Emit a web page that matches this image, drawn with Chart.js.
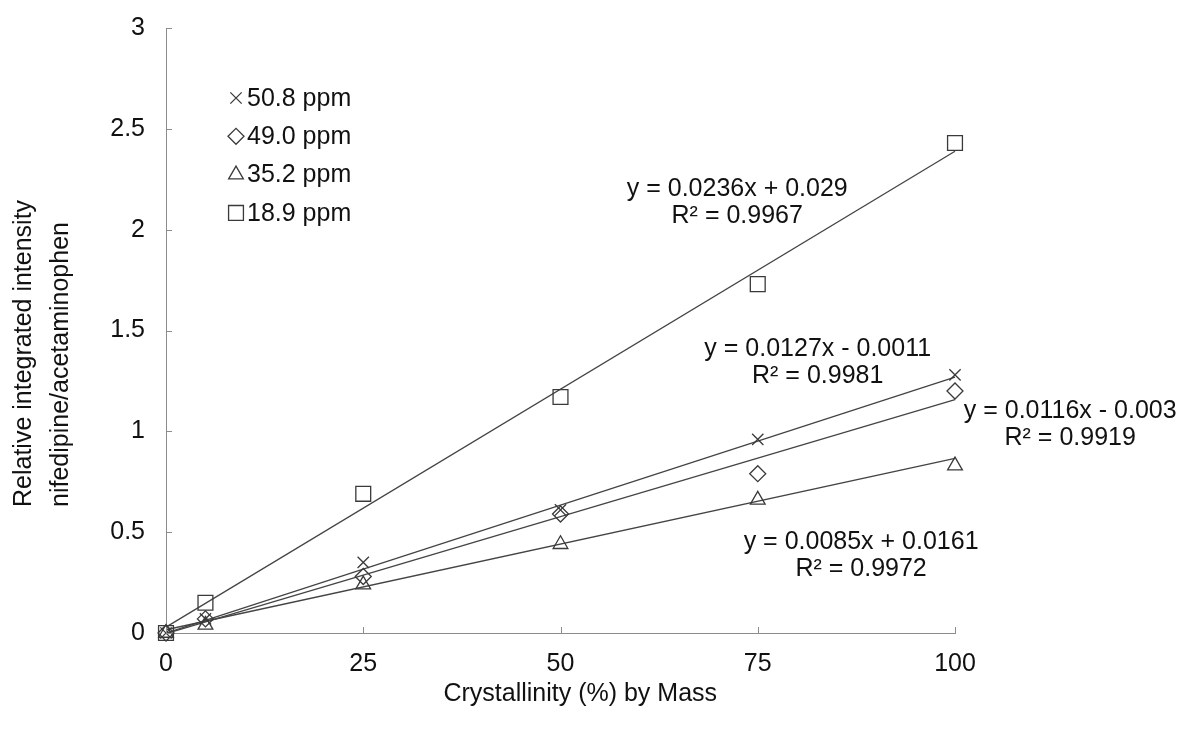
<!DOCTYPE html>
<html>
<head>
<meta charset="utf-8">
<script src="https://cdn.jsdelivr.net/npm/chart.js@4/dist/chart.umd.min.js"></script>
<style>
  html, body { margin: 0; padding: 0; background: #fff; }
  #wrap { width: 1181px; height: 729px; }
</style>
</head>
<body>
<div id="wrap"><canvas id="chart" width="1181" height="729"></canvas></div>
<script>
// Values
var crystallinity = [0, 5, 25, 50, 75, 100];

var ppm508 = [0, 0.07, 0.35, 0.61, 0.96, 1.28];
var ppm490 = [0, 0.07, 0.28, 0.59, 0.79, 1.20];
var ppm352 = [0, 0.04, 0.24, 0.44, 0.66, 0.83];
var ppm189 = [0, 0.15, 0.69, 1.17, 1.73, 2.43];

var seriesLabels = ['50.8 ppm', '49.0 ppm', '35.2 ppm', '18.9 ppm'];
var seriesStyles = ['crossRot', 'rectRot', 'triangle', 'rect'];

// trendlines as printed on the chart
var slopes = [0.0127, 0.0116, 0.0085, 0.0236];
var intercepts = [-0.0011, -0.003, 0.0161, 0.029];
var equations = ['y = 0.0127x - 0.0011', 'y = 0.0116x - 0.003', 'y = 0.0085x + 0.0161', 'y = 0.0236x + 0.029'];
var rSquared = ['R\u00b2 = 0.9981', 'R\u00b2 = 0.9919', 'R\u00b2 = 0.9972', 'R\u00b2 = 0.9967'];
// where each equation label sits, in axis units
var labelX = [82.6, 114.6, 88.1, 72.4];
var labelY = [1.41, 1.10, 0.45, 2.20];

var yTicks = [0, 0.5, 1, 1.5, 2, 2.5, 3];
var xTicks = [0, 25, 50, 75, 100];

var xTitle = 'Crystallinity (%) by Mass';
var yTitle = ['Relative integrated intensity', 'nifedipine/acetaminophen'];

var ink = '#3a3a3a';
var axisGrey = '#8c8c8c';
var textCol = '#111';
var font = 'Liberation Sans, Arial, sans-serif';
var fontSize = 25;

function points(ys) {
    return crystallinity.map(function (x, i) { return { x: x, y: ys[i] }; });
}

function markerSize(style) {
    if (style == 'rect') return 10.5;
    if (style == 'triangle') return 8.5;
    return 8;
}

var allSeries = [ppm508, ppm490, ppm352, ppm189];
var datasets = [];

allSeries.forEach(function (ys, i) {
    datasets.push({
        type: 'scatter',
        label: seriesLabels[i],
        data: points(ys),
        pointStyle: seriesStyles[i],
        pointRadius: markerSize(seriesStyles[i]),
        pointBorderWidth: 1.3,
        pointBorderColor: ink,
        pointBackgroundColor: 'rgba(0,0,0,0)',
        showLine: false,
        clip: false,
        order: 0
    });
});

allSeries.forEach(function (ys, i) {
    datasets.push({
        type: 'line',
        label: 'trend ' + seriesLabels[i],
        data: [
            { x: 0, y: intercepts[i] },
            { x: 100, y: slopes[i] * 100 + intercepts[i] }
        ],
        borderColor: '#444',
        borderWidth: 1.3,
        pointRadius: 0,
        fill: false,
        clip: false,
        order: 1
    });
});

// inside tick marks, axis titles, equation labels and the legend
var extras = {
    id: 'extras',
    afterDraw: function (chart) {
        var ctx = chart.ctx;
        var xs = chart.scales.x, ys = chart.scales.y;
        var left = xs.getPixelForValue(0), bottom = ys.getPixelForValue(0);

        ctx.save();
        ctx.strokeStyle = axisGrey;
        ctx.lineWidth = 1;
        yTicks.forEach(function (t) {
            var py = Math.round(ys.getPixelForValue(t)) + 0.5;
            ctx.beginPath(); ctx.moveTo(left, py); ctx.lineTo(left + 6, py); ctx.stroke();
        });
        xTicks.forEach(function (t) {
            var px = Math.round(xs.getPixelForValue(t)) + 0.5;
            ctx.beginPath(); ctx.moveTo(px, bottom); ctx.lineTo(px, bottom - 6); ctx.stroke();
        });

        ctx.fillStyle = textCol;
        ctx.font = fontSize + 'px ' + font;
        ctx.textBaseline = 'middle';

        // axis titles
        ctx.textAlign = 'center';
        ctx.fillText(xTitle, xs.getPixelForValue(52.5), 694);
        ctx.save();
        ctx.translate(24, 507);
        ctx.rotate(-Math.PI / 2);
        ctx.textAlign = 'left';
        ctx.fillText(yTitle[0], 0, 0);
        ctx.fillText(yTitle[1], 0, 37);
        ctx.restore();

        // trendline equations
        ctx.textAlign = 'center';
        equations.forEach(function (eq, i) {
            var px = xs.getPixelForValue(labelX[i]);
            var py = ys.getPixelForValue(labelY[i]);
            ctx.fillText(eq, px, py);
            ctx.fillText(rSquared[i], px, py + 27);
        });

        // legend
        ctx.textAlign = 'left';
        for (var i = 0; i < seriesLabels.length; i++) {
            var lx = 236, ly = 98 + i * 38.3;
            ctx.strokeStyle = ink;
            ctx.fillStyle = 'rgba(0,0,0,0)';
            ctx.lineWidth = 1.3;
            Chart.helpers.drawPoint(ctx, {
                pointStyle: seriesStyles[i],
                radius: markerSize(seriesStyles[i]),
                borderWidth: 1.3
            }, lx, ly);
            ctx.fillStyle = textCol;
            ctx.fillText(seriesLabels[i], 247, ly + 1);
        }
        ctx.restore();
    }
};

Chart.defaults.font.family = font;
Chart.defaults.color = textCol;

new Chart(document.getElementById('chart'), {
    type: 'scatter',
    data: { datasets: datasets },
    options: {
        responsive: false,
        animation: false,
        layout: { padding: { top: 27, right: 226, left: 0, bottom: 0 } },
        plugins: {
            legend: { display: false },
            tooltip: { enabled: false }
        },
        scales: {
            x: {
                type: 'linear',
                min: 0, max: 100,
                afterFit: function (s) { s.height = 96; },
                afterBuildTicks: function (s) { s.ticks = xTicks.map(function (v) { return { value: v }; }); },
                grid: { display: false },
                border: { display: true, color: axisGrey, width: 1 },
                ticks: {
                    font: { size: fontSize }, color: textCol, padding: 8, maxRotation: 0,
                    callback: function (v) { return String(v); }
                }
            },
            y: {
                type: 'linear',
                min: 0, max: 3,
                afterFit: function (s) { s.width = 166; },
                afterBuildTicks: function (s) { s.ticks = yTicks.map(function (v) { return { value: v }; }); },
                grid: { display: false },
                border: { display: true, color: axisGrey, width: 1 },
                ticks: {
                    font: { size: fontSize }, color: textCol, padding: 13,
                    callback: function (v) { return String(v); }
                }
            }
        }
    },
    plugins: [extras]
});
</script>
</body>
</html>
